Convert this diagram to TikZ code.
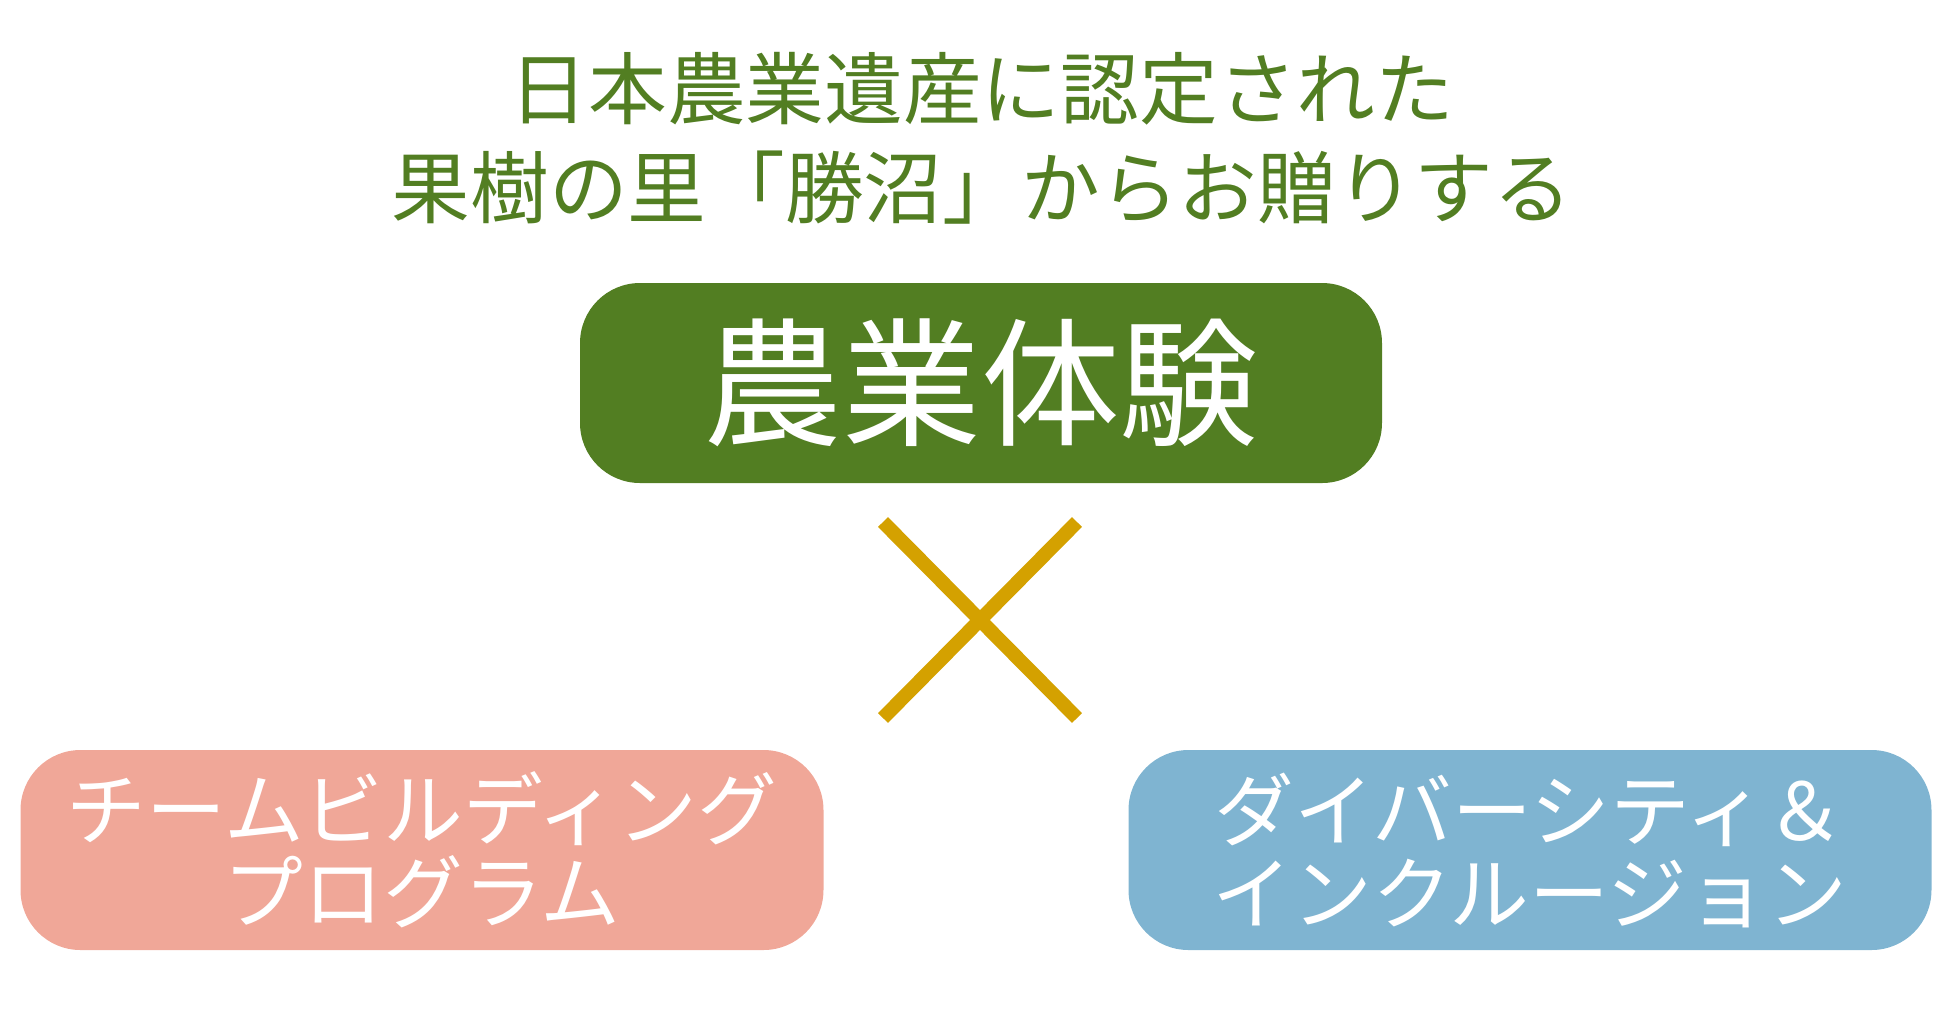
\documentclass[tikz,border=0pt]{standalone}
\usepackage{fontspec}
\newfontfamily\jpfont{Noto Sans CJK JP}
\definecolor{farmgreen}{HTML}{527E22}
\definecolor{crossgold}{HTML}{D4A100}
\definecolor{teampink}{HTML}{F0A798}
\definecolor{diverseblue}{HTML}{7FB4D1}
\begin{document}
\begin{tikzpicture}[x=0.1mm,y=-0.1mm,
    box/.style={rounded corners=6mm,minimum width=80.3mm,minimum height=20mm,inner sep=0pt,align=center,text=white},
    boxtext/.style={font=\jpfont\fontsize{22.7}{23.6}\selectfont}]
  \useasboundingbox (0,0) rectangle (1960,1020);
  % heading
  \node[text=farmgreen,align=center,font=\jpfont\fontsize{22.4}{28.2}\selectfont] (title) at (982,138)
    {日本農業遺産に認定された\\果樹の里「勝沼」からお贈りする};
  \node[box,fill=farmgreen,minimum width=80.2mm,font=\jpfont\fontsize{39.5}{40}\selectfont] (farm) at (981,383) {農業体験};
  % the cross
  \coordinate (xa) at (883,522);
  \coordinate (xb) at (1077,718);
  \coordinate (xc) at (1077,522);
  \coordinate (xd) at (883,718);
  \draw[crossgold,line width=1.4mm] (xa) -- (xb);
  \draw[crossgold,line width=1.4mm] (xc) -- (xd);
  \node[box,fill=teampink,boxtext] (team) at (422,850) {チームビルディング\\プログラム};
  \node[box,fill=diverseblue,boxtext] (diverse) at (1530,850) {ダイバーシティ＆\\インクルージョン};
\end{tikzpicture}
\end{document}
